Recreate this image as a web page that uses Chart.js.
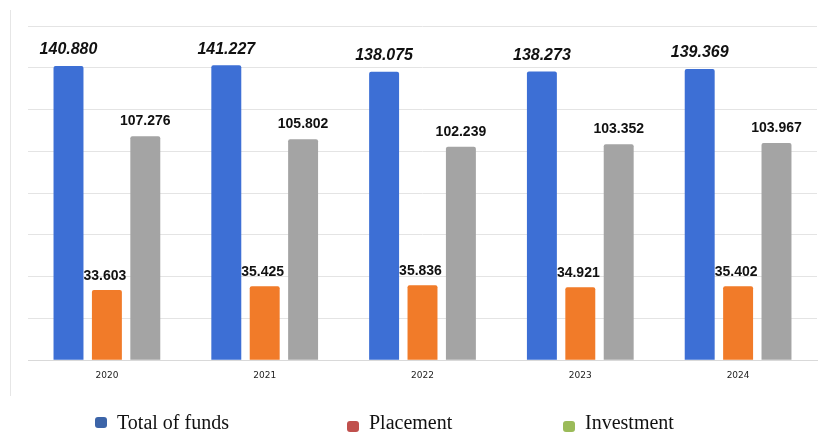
<!DOCTYPE html>
<html>
<head>
<meta charset="utf-8">
<script src="https://cdn.jsdelivr.net/npm/chart.js@4.4.1/dist/chart.umd.min.js"></script>
<style>
  html, body { margin: 0; padding: 0; background: #fff; }
  #wrap { width: 823px; height: 432px; position: relative; }
</style>
</head>
<body>
<div id="wrap"><canvas id="fundsChart"></canvas></div>
<script>
// Chart Data
const years = ["2020", "2021", "2022", "2023", "2024"];
const totalFunds = [140.880, 141.227, 138.075, 138.273, 139.369];
const placement = [33.603, 35.425, 35.836, 34.921, 35.402];
const investment = [107.276, 105.802, 102.239, 103.352, 103.967];
const legendNames = ["Total of funds", "Placement", "Investment"];
const legendColors = ["#3c64a8", "#c0504d", "#9bbb59"];

// value labels above bars
const valueLabels = {
  id: "valueLabels",
  afterDatasetsDraw(chart) {
    const ctx = chart.ctx;
    const styles = [
      { font: "italic bold 16px 'Liberation Sans', Arial", gap: 16, dx: 0 },
      { font: "bold 14px 'Liberation Sans', Arial", gap: 14, dx: -2 },
      { font: "bold 14px 'Liberation Sans', Arial", gap: 15, dx: 0 },
    ];
    ctx.save();
    ctx.fillStyle = "#111";
    ctx.textAlign = "center";
    ctx.textBaseline = "middle";
    chart.data.datasets.forEach((ds, i) => {
      const meta = chart.getDatasetMeta(i);
      meta.data.forEach((bar, j) => {
        ctx.font = styles[i].font;
        ctx.fillText(ds.data[j].toFixed(3), bar.x + styles[i].dx, bar.y - styles[i].gap);
      });
    });
    ctx.restore();
  },
};

// left frame line + legend at bottom (legend colours differ from bars)
const frameAndLegend = {
  id: "frameAndLegend",
  beforeDraw(chart) {
    const ctx = chart.ctx;
    ctx.save();
    ctx.strokeStyle = "#e6e6e6";
    ctx.lineWidth = 1;
    ctx.beginPath();
    ctx.moveTo(10.5, 10);
    ctx.lineTo(10.5, 396);
    ctx.stroke();
    ctx.restore();
  },
  afterDraw(chart) {
    const ctx = chart.ctx;
    const items = [
      { x: 95, boxY: 417 },
      { x: 347, boxY: 421 },
      { x: 563, boxY: 421 },
    ];
    ctx.save();
    ctx.font = "20px 'Liberation Serif', 'Times New Roman', serif";
    ctx.textBaseline = "alphabetic";
    ctx.textAlign = "left";
    items.forEach((it, i) => {
      ctx.fillStyle = legendColors[i];
      ctx.beginPath();
      ctx.roundRect(it.x, it.boxY, 12, 11, 3);
      ctx.fill();
      ctx.fillStyle = "#111";
      ctx.fillText(legendNames[i], it.x + 22, 429);
    });
    ctx.restore();
  },
};

const ctx = document.getElementById("fundsChart").getContext("2d");
const fundsChart = new Chart(ctx, {
  type: "bar",
  data: {
    labels: years,
    datasets: [
      { label: legendNames[0], data: totalFunds, backgroundColor: "#3d6fd5" },
      { label: legendNames[1], data: placement, backgroundColor: "#f17b29" },
      { label: legendNames[2], data: investment, backgroundColor: "#a4a4a4" },
    ],
  },
  options: {
    responsive: true,
    maintainAspectRatio: false,
    animation: false,
    layout: { padding: { left: 28, right: 6, top: 26, bottom: 41 } },
    datasets: {
      bar: { categoryPercentage: 0.73, barPercentage: 0.78, borderRadius: 2 },
    },
    plugins: {
      legend: { display: false },
      tooltip: { enabled: false },
    },
    scales: {
      x: {
        grid: { display: false, drawTicks: false },
        border: { display: true, color: "#d9d9d9" },
        ticks: {
          color: "#222",
          padding: 10,
          font: { family: "'DejaVu Sans', Arial", size: 9 },
        },
      },
      y: {
        min: 0,
        max: 160,
        ticks: { display: false, stepSize: 20 },
        border: { display: false },
        grid: { color: "#e4e4e4", drawTicks: false },
      },
    },
  },
  plugins: [valueLabels, frameAndLegend],
});
</script>
</body>
</html>
